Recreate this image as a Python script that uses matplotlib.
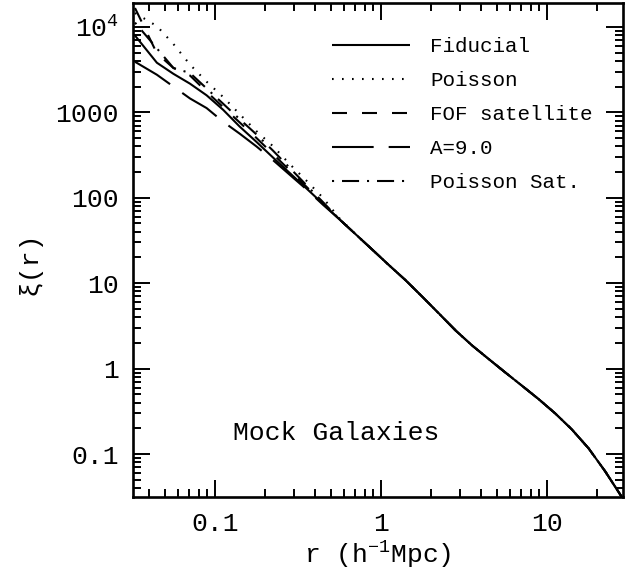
import numpy as np
import matplotlib
matplotlib.use("Agg")
import matplotlib.pyplot as plt
from matplotlib.ticker import FixedLocator, FixedFormatter, LogLocator, NullFormatter

# ---------------- data ----------------
r_small = [0.033, 0.0447, 0.0562, 0.0708, 0.0891, 0.112, 0.141, 0.178,
           0.224, 0.282, 0.355, 0.447, 0.562]
r_large = [0.708, 0.891, 1.12, 1.41, 1.78, 2.24, 2.82, 3.55, 4.47, 5.62,
           7.08, 8.91, 11.2, 14.1, 17.8, 22.4, 28.2]

# shared large-scale part (all models coincide here)
xi_large = [37, 24.5, 16.2, 10.8, 6.9, 4.4, 2.79, 1.86, 1.29, 0.90,
            0.63, 0.44, 0.30, 0.195, 0.117, 0.063, 0.0316]

xi_fiducial_small = [7900, 3800, 2820, 2160, 1580, 1070, 680, 450, 295, 195, 129, 85, 56]
xi_poisson_small = [14500, 10200, 6300, 3610, 2280, 1510, 950, 600, 400, 248, 159, 100, 57.5]
xi_fof_small = [16600, 4900, 3300, 2690, 1740, 1150, 760, 500, 324, 209, 135, 87, 56]
xi_a9_small = [3900, 2750, 2000, 1450, 1120, 776, 562, 398, 275, 186, 126, 83, 56]
xi_poissat_small = [11200, 5600, 3300, 2880, 1900, 1260, 830, 550, 355, 224, 141, 89, 56]

labels = ["Fiducial", "Poisson", "FOF satellite", "A=9.0", "Poisson Sat."]

x_ticks = [0.1, 1, 10]
x_ticklabels = ["0.1", "1", "10"]
y_ticks = [0.1, 1, 10, 100, 1000, 1e4]
y_ticklabels = ["0.1", "1", "10", "100", "1000", "10$^{4}$"]

# ---------------- figure ----------------
FONT = ["Liberation Mono", "DejaVu Sans Mono"]
plt.rcParams["font.family"] = FONT
plt.rcParams["mathtext.fontset"] = "custom"
plt.rcParams["mathtext.rm"] = "Liberation Mono"
plt.rcParams["mathtext.it"] = "Liberation Mono"
plt.rcParams["mathtext.bf"] = "Liberation Mono:bold"
plt.rcParams["mathtext.default"] = "rm"

W, H = 628, 582
fig = plt.figure(figsize=(W / 100, H / 100), dpi=100)
L, R, T, B = 133, 623, 3, 497
ax = fig.add_axes([L / W, 1 - B / H, (R - L) / W, (B - T) / H])

r_all = r_small + r_large
series = [
    (xi_fiducial_small, "-"),
    (xi_poisson_small, (0, (0.8, 4.0))),
    (xi_fof_small, (0, (7.2, 7.2))),
    (xi_a9_small, (0, (20, 7.2))),
    (xi_poissat_small, (0, (1, 3.8, 8.2, 3.8))),
]
for (small, ls), lab in zip(series, labels):
    ax.plot(r_all, list(small) + list(xi_large), color="black", lw=1.5,
            ls=ls, label=lab, solid_capstyle="butt", dash_capstyle="butt")

ax.set_xscale("log")
ax.set_yscale("log")
ax.set_xlim(0.0321, 28.7)
ax.set_ylim(0.0315, 19000)

ax.xaxis.set_major_locator(FixedLocator(x_ticks))
ax.xaxis.set_major_formatter(FixedFormatter(x_ticklabels))
ax.yaxis.set_major_locator(FixedLocator(y_ticks))
ax.yaxis.set_major_formatter(FixedFormatter(y_ticklabels))
ax.xaxis.set_minor_locator(LogLocator(base=10, subs=np.arange(2, 10), numticks=20))
ax.yaxis.set_minor_locator(LogLocator(base=10, subs=np.arange(2, 10), numticks=20))
ax.xaxis.set_minor_formatter(NullFormatter())
ax.yaxis.set_minor_formatter(NullFormatter())

ax.tick_params(which="both", direction="in", top=True, right=True,
               labelsize=19, width=1.4)
ax.tick_params(which="major", length=12.5, pad=10)
ax.tick_params(which="minor", length=6)
ax.tick_params(axis="x", which="major", pad=11)
for s in ax.spines.values():
    s.set_linewidth(1.9)

ax.set_xlabel("r (h$^{-1}$Mpc)", fontsize=19)
ax.xaxis.set_label_coords(0.5, -(555 - B) / (B - T), transform=ax.transAxes)
ax.xaxis.label.set_va("center")
ax.set_ylabel("\u03be(r)", fontsize=19)
ax.yaxis.set_label_coords(-(L - 30) / (R - L), (B - 263) / (B - T), transform=ax.transAxes)
ax.yaxis.label.set_va("center")

ax.text(0.205, 0.13, "Mock Galaxies", transform=ax.transAxes, fontsize=19,
        ha="left", va="center")

leg = ax.legend(loc="upper left", bbox_to_anchor=(332 / W, 1 - 37 / H),
                bbox_transform=fig.transFigure, frameon=False, fontsize=15,
                handlelength=3.75, handletextpad=0.95, labelspacing=0.72,
                borderpad=0, borderaxespad=0)

fig.savefig("out.png", dpi=100)
